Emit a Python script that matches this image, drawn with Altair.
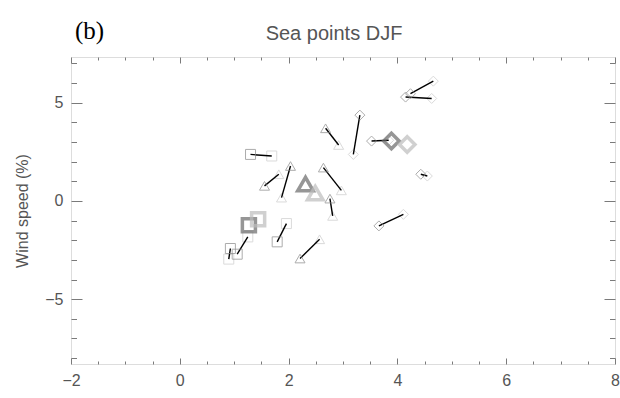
import altair as alt
import pandas as pd
import numpy as np

# Paired points: (x0, y0) is the first state, (x1, y1) the second; a black
# segment joins each pair.
sq_x0 = [1.30, 1.79, 1.055, 0.93]
sq_y0 = [2.37, -2.08, -2.71, -2.42]
sq_x1 = [1.69, 1.96, 1.25, 0.90]
sq_y1 = [2.29, -1.15, -1.83, -2.96]

tri_x0 = [2.035, 1.557, 2.68, 2.64, 2.76, 2.21]
tri_y0 = [1.78, 0.77, 3.70, 1.70, 0.12, -2.93]
tri_x1 = [1.87, 1.82, 2.92, 2.97, 2.81, 2.57]
tri_y1 = [0.17, 1.36, 2.85, 0.54, -0.76, -1.95]

dia_x0 = [4.24, 4.15, 3.525, 3.31, 4.43, 3.66]
dia_y0 = [5.46, 5.29, 3.05, 4.37, 1.36, -1.27]
dia_x1 = [4.66, 4.63, 3.84, 3.19, 4.55, 4.11]
dia_y1 = [6.10, 5.22, 3.09, 2.37, 1.27, -0.68]

# Group means (large symbols)
mean_shape = ["square", "square", "triangle-up", "triangle-up", "diamond", "diamond"]
mean_state = ["first", "second", "first", "second", "first", "second"]
mean_x = [1.27, 1.44, 2.31, 2.49, 3.89, 4.18]
mean_y = [-1.24, -0.93, 0.86, 0.40, 3.05, 2.88]
mean_size = [170, 170, 240, 240, 240, 240]

x_major = [-2, 0, 2, 4, 6, 8]
x_minor = [v for v in np.arange(-2, 8.01, 0.5).round(2).tolist() if v not in x_major]
y_major = [-5, 0, 5]
y_minor = [v for v in range(-8, 8) if v not in y_major]

X_DOMAIN = [-2, 8]
Y_DOMAIN = [-8.3, 7.33]

FRAME = "#7a7a7a"
TEXT = "#555555"
FONT = "Liberation Sans"

pairs = pd.DataFrame({
    "shape": ["square"] * 4 + ["triangle-up"] * 6 + ["diamond"] * 6,
    "x0": sq_x0 + tri_x0 + dia_x0,
    "y0": sq_y0 + tri_y0 + dia_y0,
    "x1": sq_x1 + tri_x1 + dia_x1,
    "y1": sq_y1 + tri_y1 + dia_y1,
})
means = pd.DataFrame({"shape": mean_shape, "state": mean_state,
                      "x": mean_x, "y": mean_y, "size": mean_size})

xs = alt.Scale(domain=X_DOMAIN, nice=False, zero=False)
ys = alt.Scale(domain=Y_DOMAIN, nice=False, zero=False)


def tick_axis(orient, values, size, labels=False, title=None):
    kw = dict(
        orient=orient, values=values, tickSize=size, offset=-size,
        domain=False, grid=False, labels=labels, tickColor=FRAME, tickWidth=1,
        labelColor=TEXT, labelFont=FONT, labelFontSize=16, labelPadding=8,
        labelFlush=False, labelOverlap=False,
    )
    if title:
        kw.update(title=title, titleFont=FONT, titleFontSize=16, titleColor=TEXT,
                  titleFontWeight="normal", titlePadding=14)
    else:
        kw.update(title=None)
    return alt.Axis(**kw)


base = alt.Chart(pairs)


def frame_layer(xaxis, yaxis):
    return base.mark_point(opacity=0).encode(
        x=alt.X("x0:Q", scale=xs, axis=xaxis),
        y=alt.Y("y0:Q", scale=ys, axis=yaxis),
    )


frames = [
    frame_layer(tick_axis("bottom", x_major, 6, labels=True),
                tick_axis("left", y_major, 11, labels=True, title="Wind speed (%)")),
    frame_layer(tick_axis("bottom", x_minor, 3), tick_axis("left", y_minor, 5.5)),
    frame_layer(tick_axis("top", x_major, 6), tick_axis("right", y_major, 11)),
    frame_layer(tick_axis("top", x_minor, 3), tick_axis("right", y_minor, 5.5)),
]

segments = base.mark_rule(color="black", strokeWidth=1.4).encode(
    x=alt.X("x0:Q", scale=xs, axis=None),
    y=alt.Y("y0:Q", scale=ys, axis=None),
    x2="x1:Q",
    y2="y1:Q",
)

first_pts = base.mark_point(filled=False, strokeWidth=1, color="#8a8a8a", size=100).encode(
    x=alt.X("x0:Q", scale=xs, axis=None),
    y=alt.Y("y0:Q", scale=ys, axis=None),
    shape=alt.Shape("shape:N", scale=None),
)

second_pts = base.mark_point(filled=False, strokeWidth=1, color="#cccccc", size=100).encode(
    x=alt.X("x1:Q", scale=xs, axis=None),
    y=alt.Y("y1:Q", scale=ys, axis=None),
    shape=alt.Shape("shape:N", scale=None),
)

mean_pts = alt.Chart(means).mark_point(filled=False, strokeWidth=3.5).encode(
    x=alt.X("x:Q", scale=xs, axis=None),
    y=alt.Y("y:Q", scale=ys, axis=None),
    shape=alt.Shape("shape:N", scale=None),
    size=alt.Size("size:Q", scale=None, legend=None),
    color=alt.Color("state:N", scale=alt.Scale(domain=["first", "second"],
                                                range=["#6a6a6a", "#bdbdbd"]), legend=None),
)

# Panel letter and title, placed above the frame
panel_tag = alt.Chart(pd.DataFrame({"tag": ["(b)"]})).mark_text(
    font="Liberation Serif", fontSize=25, color="black", align="left", baseline="alphabetic"
).encode(x=alt.value(4), y=alt.value(-18), text="tag:N")

panel_title = alt.Chart(pd.DataFrame({"title": ["Sea points DJF"]})).mark_text(
    font=FONT, fontSize=20, color=TEXT, align="center", baseline="alphabetic"
).encode(x=alt.value(263), y=alt.value(-17), text="title:N")

chart = alt.layer(
    *frames, second_pts, segments, first_pts, mean_pts, panel_tag, panel_title
).resolve_axis(
    x="independent", y="independent"
).properties(
    width=544,
    height=307,
    autosize=alt.AutoSizeParams(type="none"),
    padding={"left": 71, "top": 57, "right": 5, "bottom": 34},
).configure_view(
    stroke=FRAME, strokeWidth=1
).configure(background="white")

chart.save("out.html", embed_options={"renderer": "svg", "actions": False})
